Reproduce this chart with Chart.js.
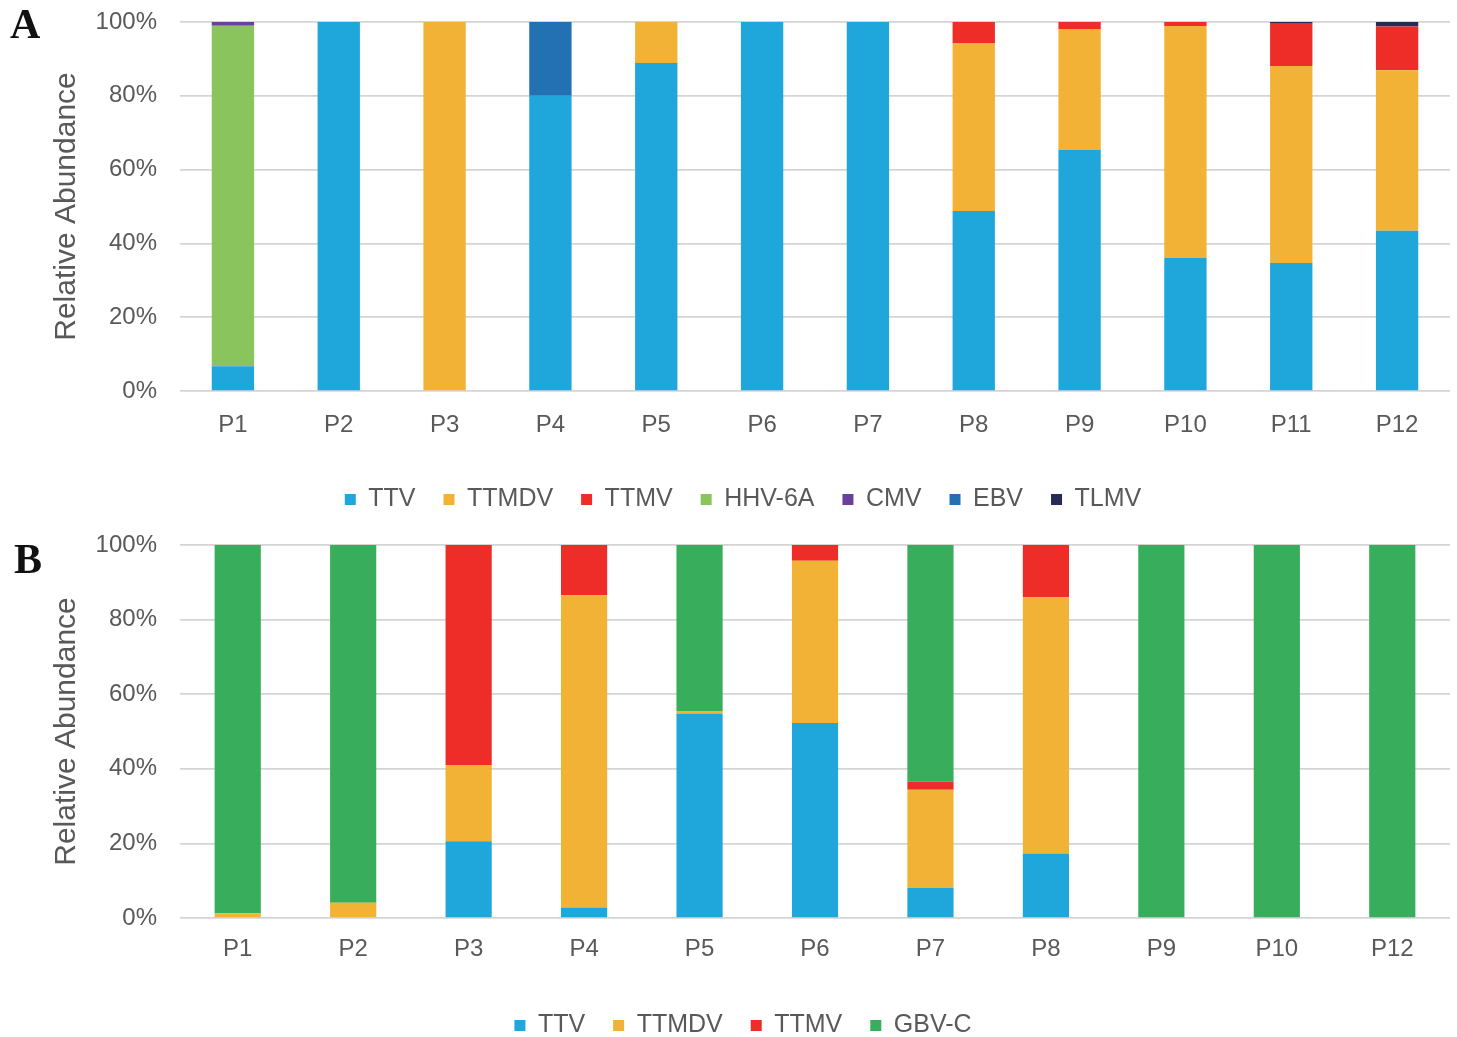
<!DOCTYPE html>
<html>
<head>
<meta charset="utf-8">
<title>Relative Abundance</title>
<script src="https://cdn.jsdelivr.net/npm/chart.js@4.4.1/dist/chart.umd.min.js"></script>
<style>
  html, body { margin: 0; padding: 0; background: #ffffff; overflow: hidden; }
  body { width: 1457px; height: 1037px; position: relative; }
  .panel { position: absolute; left: 0; width: 1457px; }
  #wrapA { top: 0; height: 522px; }
  #wrapB { top: 520px; height: 528px; }
  .tag { position: absolute; font-family: "Liberation Serif", "Times New Roman", serif;
         font-weight: bold; font-size: 42px; line-height: 42px; color: #111; }
</style>
</head>
<body>
<div class="panel" id="wrapA"><canvas id="chartA" width="1457" height="522"></canvas></div>
<div class="panel" id="wrapB"><canvas id="chartB" width="1457" height="528"></canvas></div>
<div class="tag" style="left:10px; top:3px;">A</div>
<div class="tag" style="left:14px; top:538px;">B</div>
<script>
// Panel A: relative abundance (%) per patient
const categoriesA = ['P1', 'P2', 'P3', 'P4', 'P5', 'P6', 'P7', 'P8', 'P9', 'P10', 'P11', 'P12'];
const ttvA   = [6.7, 100, 0, 80.0, 88.9, 100, 100, 48.8, 65.4, 36.1, 34.7, 43.4];
const ttmdvA = [0, 0, 100, 0, 11.1, 0, 0, 45.4, 32.7, 62.8, 53.4, 43.5];
const ttmvA  = [0, 0, 0, 0, 0, 0, 0, 5.8, 1.9, 1.1, 11.4, 11.9];
const hhv6aA = [92.3, 0, 0, 0, 0, 0, 0, 0, 0, 0, 0, 0];
const cmvA   = [1.0, 0, 0, 0, 0, 0, 0, 0, 0, 0, 0, 0];
const ebvA   = [0, 0, 0, 20.0, 0, 0, 0, 0, 0, 0, 0, 0];
const tlmvA  = [0, 0, 0, 0, 0, 0, 0, 0, 0, 0, 0.5, 1.2];

// Panel B: relative abundance (%) per patient
const categoriesB = ['P1', 'P2', 'P3', 'P4', 'P5', 'P6', 'P7', 'P8', 'P9', 'P10', 'P12'];
const ttvB   = [0, 0, 20.6, 2.8, 54.8, 52.3, 8.1, 17.3, 0, 0, 0];
const ttmdvB = [1.3, 4.1, 20.4, 83.7, 0.7, 43.5, 26.3, 68.7, 0, 0, 0];
const ttmvB  = [0, 0, 59.0, 13.5, 0, 4.2, 2.1, 14.0, 0, 0, 0];
const gbvcB  = [98.7, 95.9, 0, 0, 44.5, 0, 63.5, 0, 100, 100, 100];

const yTicks = [0, 20, 40, 60, 80, 100];

const COLORS = {
  TTV: '#1fa7dc', TTMDV: '#f2b236', TTMV: '#ee2d28', 'HHV-6A': '#89c45d',
  CMV: '#6b3f9c', EBV: '#2370b2', TLMV: '#262a57', 'GBV-C': '#38ad5c'
};

Chart.defaults.font.family = "'Liberation Sans', Arial, sans-serif";
Chart.defaults.color = '#595959';

function series(label, data) {
  return { label, data, backgroundColor: COLORS[label], borderWidth: 0,
           categoryPercentage: 1.0, barPercentage: 0.4 };
}

// left padding 36 + y-axis width 144 puts the plot edge at x = 180
function makeOptions(topPad, xAxisHeight, xLabelPad) {
  return {
    responsive: false,
    animation: false,
    layout: { padding: { left: 36, right: 7, top: topPad, bottom: 0 } },
    plugins: {
      tooltip: { enabled: false },
      legend: {
        position: 'bottom',
        labels: { boxWidth: 11, boxHeight: 11, padding: 28, color: '#595959',
                  font: { size: 25 } }
      }
    },
    scales: {
      x: {
        stacked: true,
        grid: { display: false, drawTicks: false },
        border: { display: false },
        ticks: { padding: xLabelPad, color: '#595959', font: { size: 24 } },
        afterFit: s => { s.height = xAxisHeight; }
      },
      y: {
        stacked: true,
        min: 0, max: 100,
        afterBuildTicks: s => { s.ticks = yTicks.map(v => ({ value: v })); },
        grid: { color: '#d4d4d4', lineWidth: 1.7, drawTicks: false },
        border: { display: false },
        ticks: { padding: 23, color: '#595959', font: { size: 24 },
                 callback: v => v + '%' },
        title: { display: true, text: 'Relative Abundance', color: '#595959',
                 font: { size: 30 }, padding: { top: 13, bottom: 0 } },
        afterFit: s => { s.width = 144; s.paddingTop = 0; s.paddingBottom = 0; }
      }
    }
  };
}

new Chart(document.getElementById('chartA'), {
  type: 'bar',
  data: {
    labels: categoriesA,
    datasets: [
      series('TTV', ttvA), series('TTMDV', ttmdvA), series('TTMV', ttmvA),
      series('HHV-6A', hhv6aA), series('CMV', cmvA), series('EBV', ebvA),
      series('TLMV', tlmvA)
    ]
  },
  options: makeOptions(22, 68, 20)
});

new Chart(document.getElementById('chartB'), {
  type: 'bar',
  data: {
    labels: categoriesB,
    datasets: [
      series('TTV', ttvB), series('TTMDV', ttmdvB), series('TTMV', ttmvB),
      series('GBV-C', gbvcB)
    ]
  },
  options: makeOptions(25, 67, 17)
});
</script>
</body>
</html>
